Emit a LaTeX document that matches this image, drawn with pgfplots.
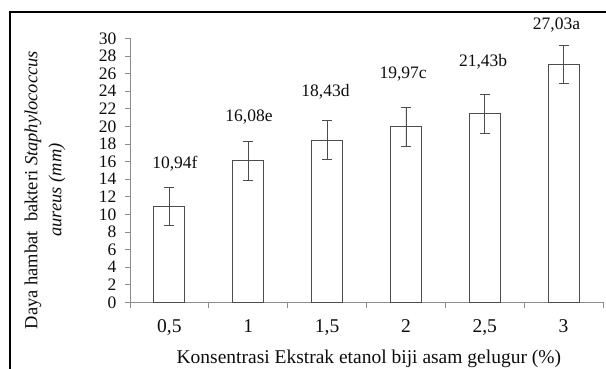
\documentclass[border=0pt]{standalone}
\usepackage{pgfplots}
\pgfplotsset{compat=1.18}
\usepackage{fontspec}
\setmainfont{Liberation Serif}
\pgfplotstableread{
x y e
0 10.94 2.15
1 16.08 2.2
2 18.43 2.2
3 19.97 2.2
4 21.43 2.25
5 27.03 2.2
}\bars
\pgfplotstableread{
x y lab
0.07 15.80 10,94f
1.01 21.09 16,08e
1.98 23.93 18,43d
2.965 25.95 19,97c
3.98 27.34 21,43b
4.91 31.51 27,03a
}\labs
\begin{document}
\begin{tikzpicture}[x=1pt,y=1pt]
\useasboundingbox (0,0) rectangle (606,-369);
\draw[line width=2.2pt] (10,-369) -- (10,-11.7) -- (606,-11.7);
\begin{axis}[
  at={(130pt,-302.3pt)}, anchor=south west,
  scale only axis, width=473pt, height=264pt,
  xmin=-0.5, xmax=5.5, ymin=0, ymax=30,
  axis x line=bottom, axis y line=left,
  axis line style={-, draw=black!45, line width=0.8pt},
  xtick={0,...,5}, xticklabels={{0,5},1,{1,5},2,{2,5},3},
  major x tick style={draw=none},
  minor xtick={-0.5,0.5,...,5.5},
  minor tick length=6pt,
  ytick={0,2,...,30}, tick align=outside, major tick length=5pt,
  tick style={black!45, line width=0.8pt},
  /pgf/number format/assume math mode=true,
  yticklabel style={font=\fontsize{17.5}{17.5}\selectfont, text=black!95, xshift=-5pt},
  xticklabel style={font=\fontsize{19.5}{20}\selectfont, text=black!95, yshift=-9pt},
  ylabel={Daya hambat\ \ bakteri \textit{Staphylococcus}\\\textit{aureus (mm)}},
  xlabel={Konsentrasi Ekstrak etanol biji asam gelugur (\%)},
  ylabel style={at={(axis description cs:-0.18,0.425)}, anchor=center, align=center, font=\fontsize{18.5}{24}\selectfont, text=black!95},
  xlabel style={at={(axis description cs:0.505,-0.2136)}, anchor=center, font=\fontsize{19.5}{20}\selectfont, text=black!95},
  clip=false,
]
\addplot[ybar, bar width=31pt, draw=black!70, line width=0.9pt, fill=white,
  error bars/.cd, y dir=both, y explicit,
  error bar style={black!70, line width=0.8pt},
  error mark options={rotate=90, mark size=5pt, black!70, line width=0.8pt}]
  table[x=x, y=y, y error=e] {\bars};
\addplot[only marks, mark=none, nodes near coords, point meta=explicit symbolic,
  nodes near coords style={anchor=center, font=\fontsize{17.5}{18}\selectfont, text=black!95}]
  table[x=x, y=y, meta=lab] {\labs};
\end{axis}
\end{tikzpicture}
\end{document}
